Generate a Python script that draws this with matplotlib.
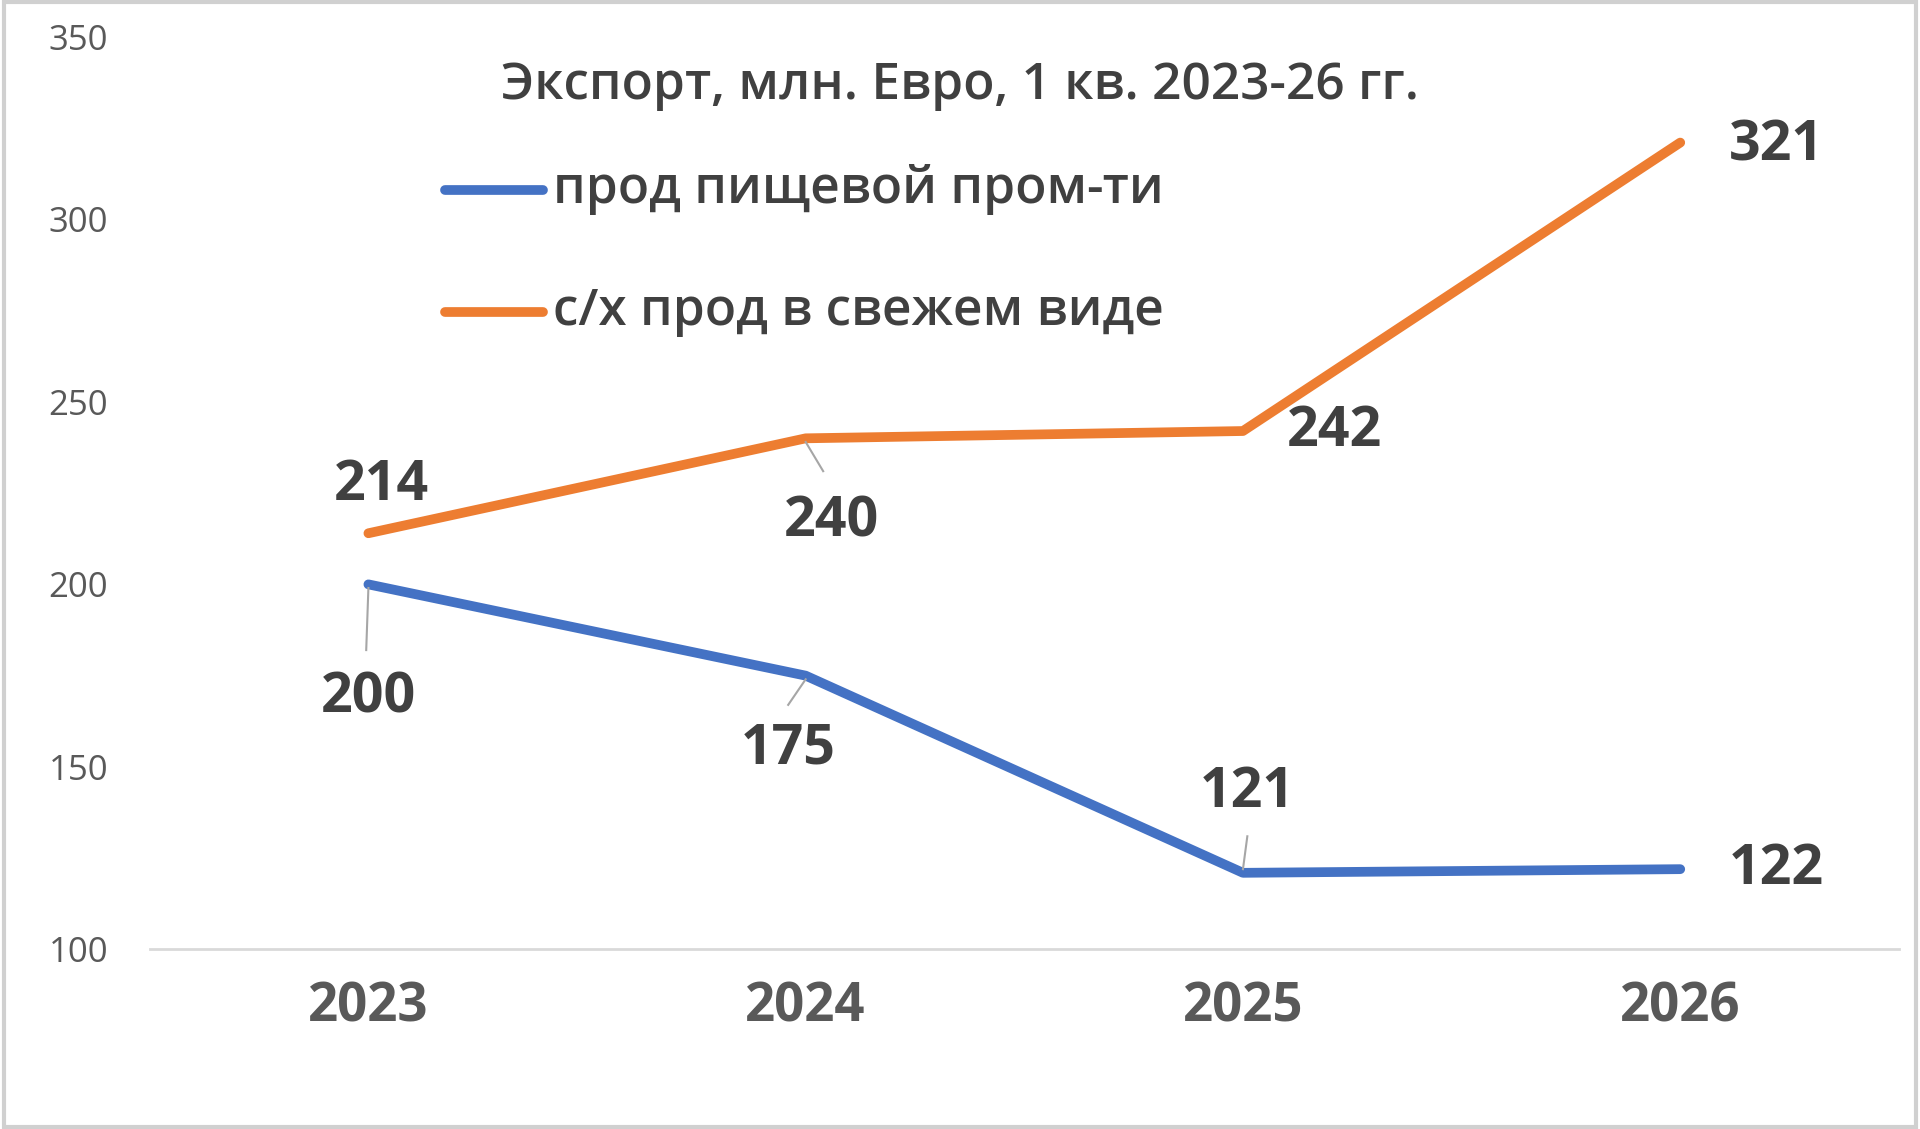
import matplotlib
matplotlib.use("Agg")
import matplotlib.pyplot as plt
from matplotlib.patches import Rectangle

years = ["2023", "2024", "2025", "2026"]
food_ind = [200, 175, 121, 122]
fresh = [214, 240, 242, 321]
title = "Экспорт, млн. Евро, 1 кв. 2023-26 гг."
names = ["прод пищевой пром-ти", "с/х прод в свежем виде"]
yticks = [100, 150, 200, 250, 300, 350]

plt.rcParams['font.family'] = ['Open Sans', 'DejaVu Sans']
fig = plt.figure(figsize=(19.2, 11.29), dpi=100)
ax = fig.add_axes([0.078, 0.159, 0.911, 0.8085])
fig.patches.append(Rectangle((0.002, 0.002), 0.996, 0.996, transform=fig.transFigure,
                             fill=False, edgecolor='#d0d0d0', lw=3))
x = list(range(len(years)))
blue, orange = '#4472C4', '#ED7D31'
ax.plot(x, food_ind, color=blue, lw=7, solid_capstyle='round')
ax.plot(x, fresh, color=orange, lw=7, solid_capstyle='round')
ax.set_xlim(-0.5, 3.5)
ax.set_ylim(100, 350)
ax.set_yticks(yticks)
ax.set_xticks(x, years)
for s in ['top', 'right', 'left']:
    ax.spines[s].set_visible(False)
ax.spines['bottom'].set_color('#d9d9d9')
ax.spines['bottom'].set_linewidth(2)
ax.tick_params(axis='y', length=0, labelsize=25, labelcolor='#595959', pad=30)
ax.tick_params(axis='x', length=0, labelsize=38, labelcolor='#595959', pad=22)
for t in ax.get_xticklabels():
    t.set_fontweight('bold')

lab = dict(fontsize=40, fontweight='bold', color='#404040', ha='center', va='center')
fresh_pos = [(0.03, 227), (1.06, 217), (2.21, 242), (3.22, 320)]
food_pos = [(0.0, 169), (0.96, 155), (2.01, 143), (3.22, 122)]
for i in range(4):
    ax.text(*fresh_pos[i], str(fresh[i]), **lab)
    ax.text(*food_pos[i], str(food_ind[i]), **lab)
lc = dict(color='#a6a6a6', lw=1.5)
ax.plot([1.0, 1.04], [239, 231], **lc)
ax.plot([0.0, -0.005], [199, 182], **lc)
ax.plot([1.0, 0.96], [174, 167], **lc)
ax.plot([2.0, 2.01], [122, 131], **lc)

fig.text(0.5, 0.924, title, fontsize=37, fontweight='semibold', color='#404040', ha='center', va='center')
for i, (c, n) in enumerate(zip([blue, orange], names)):
    yy = 0.832 - i * 0.108
    fig.add_artist(plt.Line2D([0.232, 0.283], [yy, yy], color=c, lw=7, solid_capstyle='round'))
    fig.text(0.288, yy, n, fontsize=37, fontweight='semibold', color='#404040', va='center')

fig.savefig("out.png", dpi=100)
